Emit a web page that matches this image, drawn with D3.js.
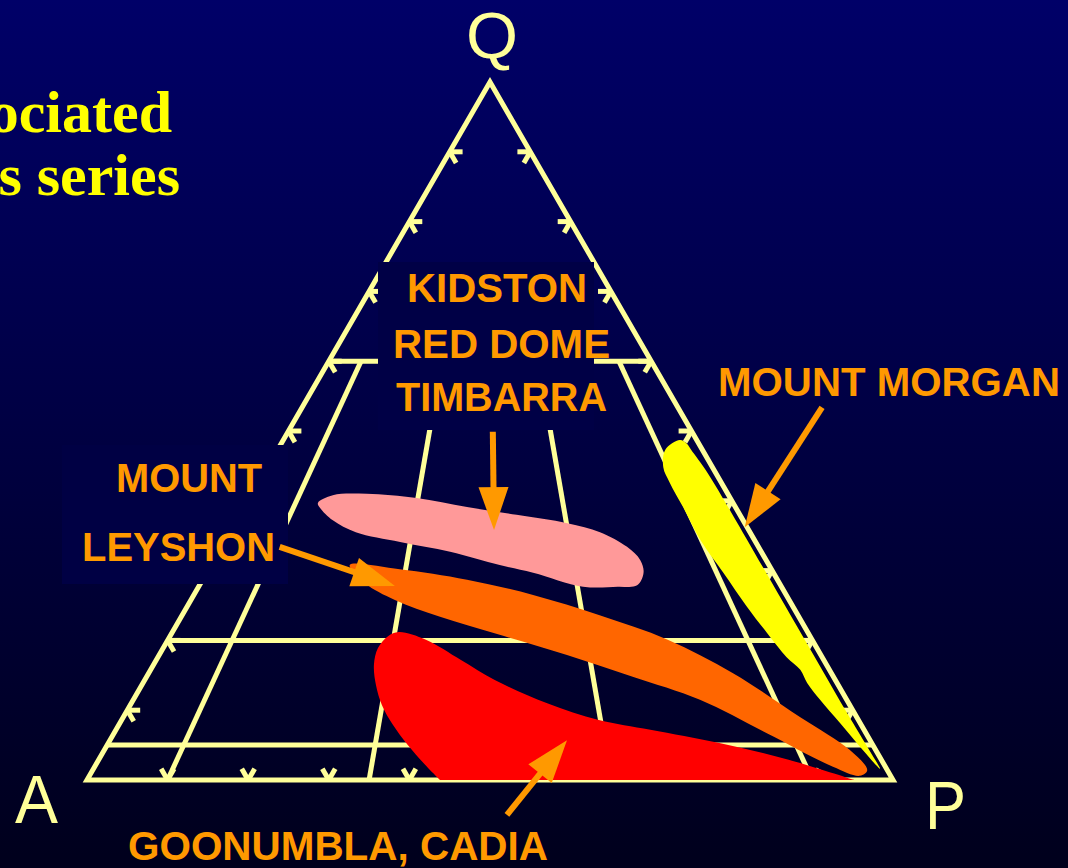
<!DOCTYPE html>
<html>
<head>
<meta charset="utf-8">
<script src="https://cdn.jsdelivr.net/npm/d3@7"></script>
<style>
	body { margin:0; background:#000040; overflow:hidden; }
	svg { display:block; }
</style>
</head>
<body>
<div id="svgContainer"></div>
<script>
// QAP ternary diagram. every point is [Q, P] in percent, A = 100 - Q - P

const qLines = [60, 20, 5];              // horizontal Q divisions
const ratioLines = [10, 35, 65, 90];     // P/(A+P) divisions
const ratioTop = 60;                     // ratio lines stop at Q = 60
const tickSteps = [10, 20, 30, 40, 50, 60, 70, 80, 90];

const pinkField = [[39.7,8.8],[40.8,10.1],[41.0,14.2],[40.4,20.7],[39.1,27.6],[38.0,34.3],[36.8,41.2],[35.5,45.9],
	[33.4,50.3],[31.5,52.9],[29.7,54.2],[27.9,54.3],[27.7,52.0],[27.7,47.7],[29.7,40.5],[30.8,35.8],[32.7,28.7],
	[34.1,21.8],[35.5,15.6],[37.2,11.9],[39.0,9.4]];

const orangeField = [[30.8,17.2],[30.2,23.7],[28.7,32.8],[26.5,42.1],[23.6,51.8],[20.1,62.0],[15.3,72.5],[9.0,84.0],
	[4.3,92.5],[1.4,96.1],[0.6,95.6],[1.9,91.6],[6.7,81.0],[11.5,70.3],[14.8,60.3],[17.9,50.6],[20.8,40.8],
	[23.4,32.1],[25.8,25.3],[28.2,20.4]];

// red field sits on the A-P base : open outline, closed by the straight base
const redField = [[0,43.8],[2.15,40.9],[5.0,37.3],[7.9,34.0],[10.7,31.25],[13.6,29.05],[16.5,27.35],[18.9,26.65],
	[20.6,27.05],[21.2,28.1],[20.1,32.0],[17.2,37.8],[14.3,43.5],[11.0,51.6],[8.6,59.2],[7.2,66.3],[5.3,75.8],
	[2.9,85.6],[0,95.2]];

const yellowField = [[48.7,49.2],[48.2,50.3],[47.3,51.3],[44.0,55.0],[38.3,60.8],[30.5,68.6],[23.4,75.7],[16.2,82.9],
	[9.6,89.5],[4.3,94.9],[1.6,97.6],[4.3,94.1],[8.2,89.3],[11.5,85.2],[13.9,82.4],[15.8,80.6],[17.6,78.0],
	[21.1,73.8],[24.8,69.5],[29.7,64.1],[34.4,58.9],[39.1,54.4],[42.6,51.0],[44.8,49.1],[47.3,48.1]];

// arrows : [tail, tip]
const kidstonArrow = [[49.9,25.4],[35.8,32.6]];
const leyshonArrow = [[33.4,7.2],[27.8,24.3]];
const morganArrow = [[53.4,64.5],[36.2,63.5]];
const goonumblaArrow = [[-5.0,54.6],[5.7,56.7]];

// texts
const titleLines = ["ociated", "s series"];
const vertexNames = ["Q", "A", "P"];
const kidstonLabel = ["KIDSTON", "RED DOME", "TIMBARRA"];
const leyshonLabel = ["MOUNT", "LEYSHON"];
const morganLabel = ["MOUNT MORGAN"];
const goonumblaLabel = ["GOONUMBLA, CADIA"];


const W = 1068, H = 868;
const gridColor = "#ffff99";
const labelColor = "#ff9900";
const tickLen = 1.6; // percent

// t = P + Q/2 gives the horizontal position along the A-P base
const xScale = d3.scaleLinear().domain([0, 100]).range([87, 893]);
const yScale = d3.scaleLinear().domain([0, 100]).range([780, 82]);

function proj(d) { return [xScale(d[1] + d[0] / 2), yScale(d[0])]; }

var lineFunction = d3.line()
	.x(function (d) { return proj(d)[0]; })
	.y(function (d) { return proj(d)[1]; });

var blobFunction = d3.line()
	.x(function (d) { return proj(d)[0]; })
	.y(function (d) { return proj(d)[1]; })
	.curve(d3.curveCatmullRomClosed.alpha(0.5));

var openBlobFunction = d3.line()
	.x(function (d) { return proj(d)[0]; })
	.y(function (d) { return proj(d)[1]; })
	.curve(d3.curveCatmullRom.alpha(0.5));

var svg = d3.select("#svgContainer").append("svg")
	.attr("width", W)
	.attr("height", H);

var grad = svg.append("defs").append("linearGradient")
	.attr("id", "bg").attr("x1", 0).attr("y1", 0).attr("x2", 0).attr("y2", 1);
grad.append("stop").attr("offset", "0%").attr("stop-color", "#000068");
grad.append("stop").attr("offset", "100%").attr("stop-color", "#00001c");

svg.append("rect").attr("width", W).attr("height", H).attr("fill", "url(#bg)");

// title (cut at the left border like the slide)
svg.append("g")
	.selectAll("text")
	.data(titleLines)
	.enter()
	.append("text")
	.attr("x", function (d, i) { return i === 0 ? 172 : 180; })
	.attr("y", function (d, i) { return i === 0 ? 132 : 195; })
	.attr("text-anchor", "end")
	.attr("font-family", "'Liberation Serif', 'Times New Roman', serif")
	.attr("font-weight", "bold")
	.attr("font-size", 60)
	.attr("fill", "#ffff00")
	.text(function (d) { return d; });

// grid
var grid = svg.append("g")
	.attr("fill", "none")
	.attr("stroke", gridColor)
	.attr("stroke-width", 5);

qLines.forEach(function (q) {
	grid.append("path").attr("d", lineFunction([[q, 0], [q, 100 - q]]));
});

ratioLines.forEach(function (r) {
	grid.append("path").attr("d", lineFunction([[0, r], [ratioTop, (100 - ratioTop) * r / 100]]));
});

var ticks = [];
tickSteps.forEach(function (s) {
	// left edge A-Q
	ticks.push([[s, 0], [s, tickLen]]);
	ticks.push([[s, 0], [s - tickLen, tickLen]]);
	// right edge Q-P
	ticks.push([[s, 100 - s], [s, 100 - s - tickLen]]);
	ticks.push([[s, 100 - s], [s - tickLen, 100 - s]]);
	// base A-P
	ticks.push([[0, s], [tickLen, s]]);
	ticks.push([[0, s], [tickLen, s - tickLen]]);
});

grid.selectAll(".tick")
	.data(ticks)
	.enter()
	.append("path")
	.attr("class", "tick")
	.attr("stroke-width", 5)
	.attr("d", lineFunction);

grid.append("path")
	.attr("stroke-linejoin", "miter")
	.attr("d", lineFunction([[0, 0], [0, 100], [100, 0]]) + "Z");

// label boxes over the grid
svg.append("rect").attr("x", 378).attr("y", 262).attr("width", 216).attr("height", 168).attr("fill", "#000046");
svg.append("rect").attr("x", 62).attr("y", 445).attr("width", 226).attr("height", 139).attr("fill", "#000044");

// fields
var fields = [
	{ d: blobFunction(pinkField), color: "#ff9999" },
	{ d: openBlobFunction(redField) + "Z", color: "#ff0000" },
	{ d: blobFunction(orangeField), color: "#ff6600" },
	{ d: blobFunction(yellowField), color: "#ffff00" }
];

svg.append("g")
	.selectAll("path")
	.data(fields)
	.enter()
	.append("path")
	.attr("fill", function (d) { return d.color; })
	.attr("d", function (d) { return d.d; });

// arrows
function drawArrow(a) {
	var p0 = proj(a[0]), p1 = proj(a[1]);
	var dx = p1[0] - p0[0], dy = p1[1] - p0[1];
	var len = Math.sqrt(dx * dx + dy * dy);
	var ux = dx / len, uy = dy / len;
	var headL = 43, headW = 15;
	var bx = p1[0] - ux * headL, by = p1[1] - uy * headL;
	var g = svg.append("g");
	g.append("line")
		.attr("x1", p0[0]).attr("y1", p0[1])
		.attr("x2", bx + ux * 4).attr("y2", by + uy * 4)
		.attr("stroke", labelColor)
		.attr("stroke-width", 6);
	g.append("path")
		.attr("fill", labelColor)
		.attr("d", "M" + p1[0] + "," + p1[1] +
			"L" + (bx - uy * headW) + "," + (by + ux * headW) +
			"L" + (bx + uy * headW) + "," + (by - ux * headW) + "Z");
}
[kidstonArrow, leyshonArrow, morganArrow, goonumblaArrow].forEach(drawArrow);

// labels
function drawLabel(lines, xs, ys, widths) {
	svg.append("g")
		.selectAll("text")
		.data(lines)
		.enter()
		.append("text")
		.attr("x", function (d, i) { return xs[i]; })
		.attr("y", function (d, i) { return ys[i]; })
		.attr("textLength", function (d, i) { return widths[i]; })
		.attr("lengthAdjust", "spacingAndGlyphs")
		.attr("font-family", "'Liberation Sans', Arial, sans-serif")
		.attr("font-weight", "bold")
		.attr("font-size", 40)
		.attr("fill", labelColor)
		.text(function (d) { return d; });
}
drawLabel(kidstonLabel, [407, 393, 396], [302, 358, 411], [180, 217, 211]);
drawLabel(leyshonLabel, [116, 82], [492, 561], [146, 193]);
drawLabel(morganLabel, [718], [396], [342]);
drawLabel(goonumblaLabel, [128], [860], [420]);

// vertices
var vertexPos = [[466, 58, 52, 64], [15, 823, 43, 68], [925, 829, 41, 68]];
svg.append("g")
	.selectAll("text")
	.data(vertexNames)
	.enter()
	.append("text")
	.attr("x", function (d, i) { return vertexPos[i][0]; })
	.attr("y", function (d, i) { return vertexPos[i][1]; })
	.attr("textLength", function (d, i) { return vertexPos[i][2]; })
	.attr("lengthAdjust", "spacingAndGlyphs")
	.attr("font-family", "'Liberation Sans', Arial, sans-serif")
	.attr("font-size", function (d, i) { return vertexPos[i][3]; })
	.attr("fill", gridColor)
	.text(function (d) { return d; });
</script>
</body>
</html>
